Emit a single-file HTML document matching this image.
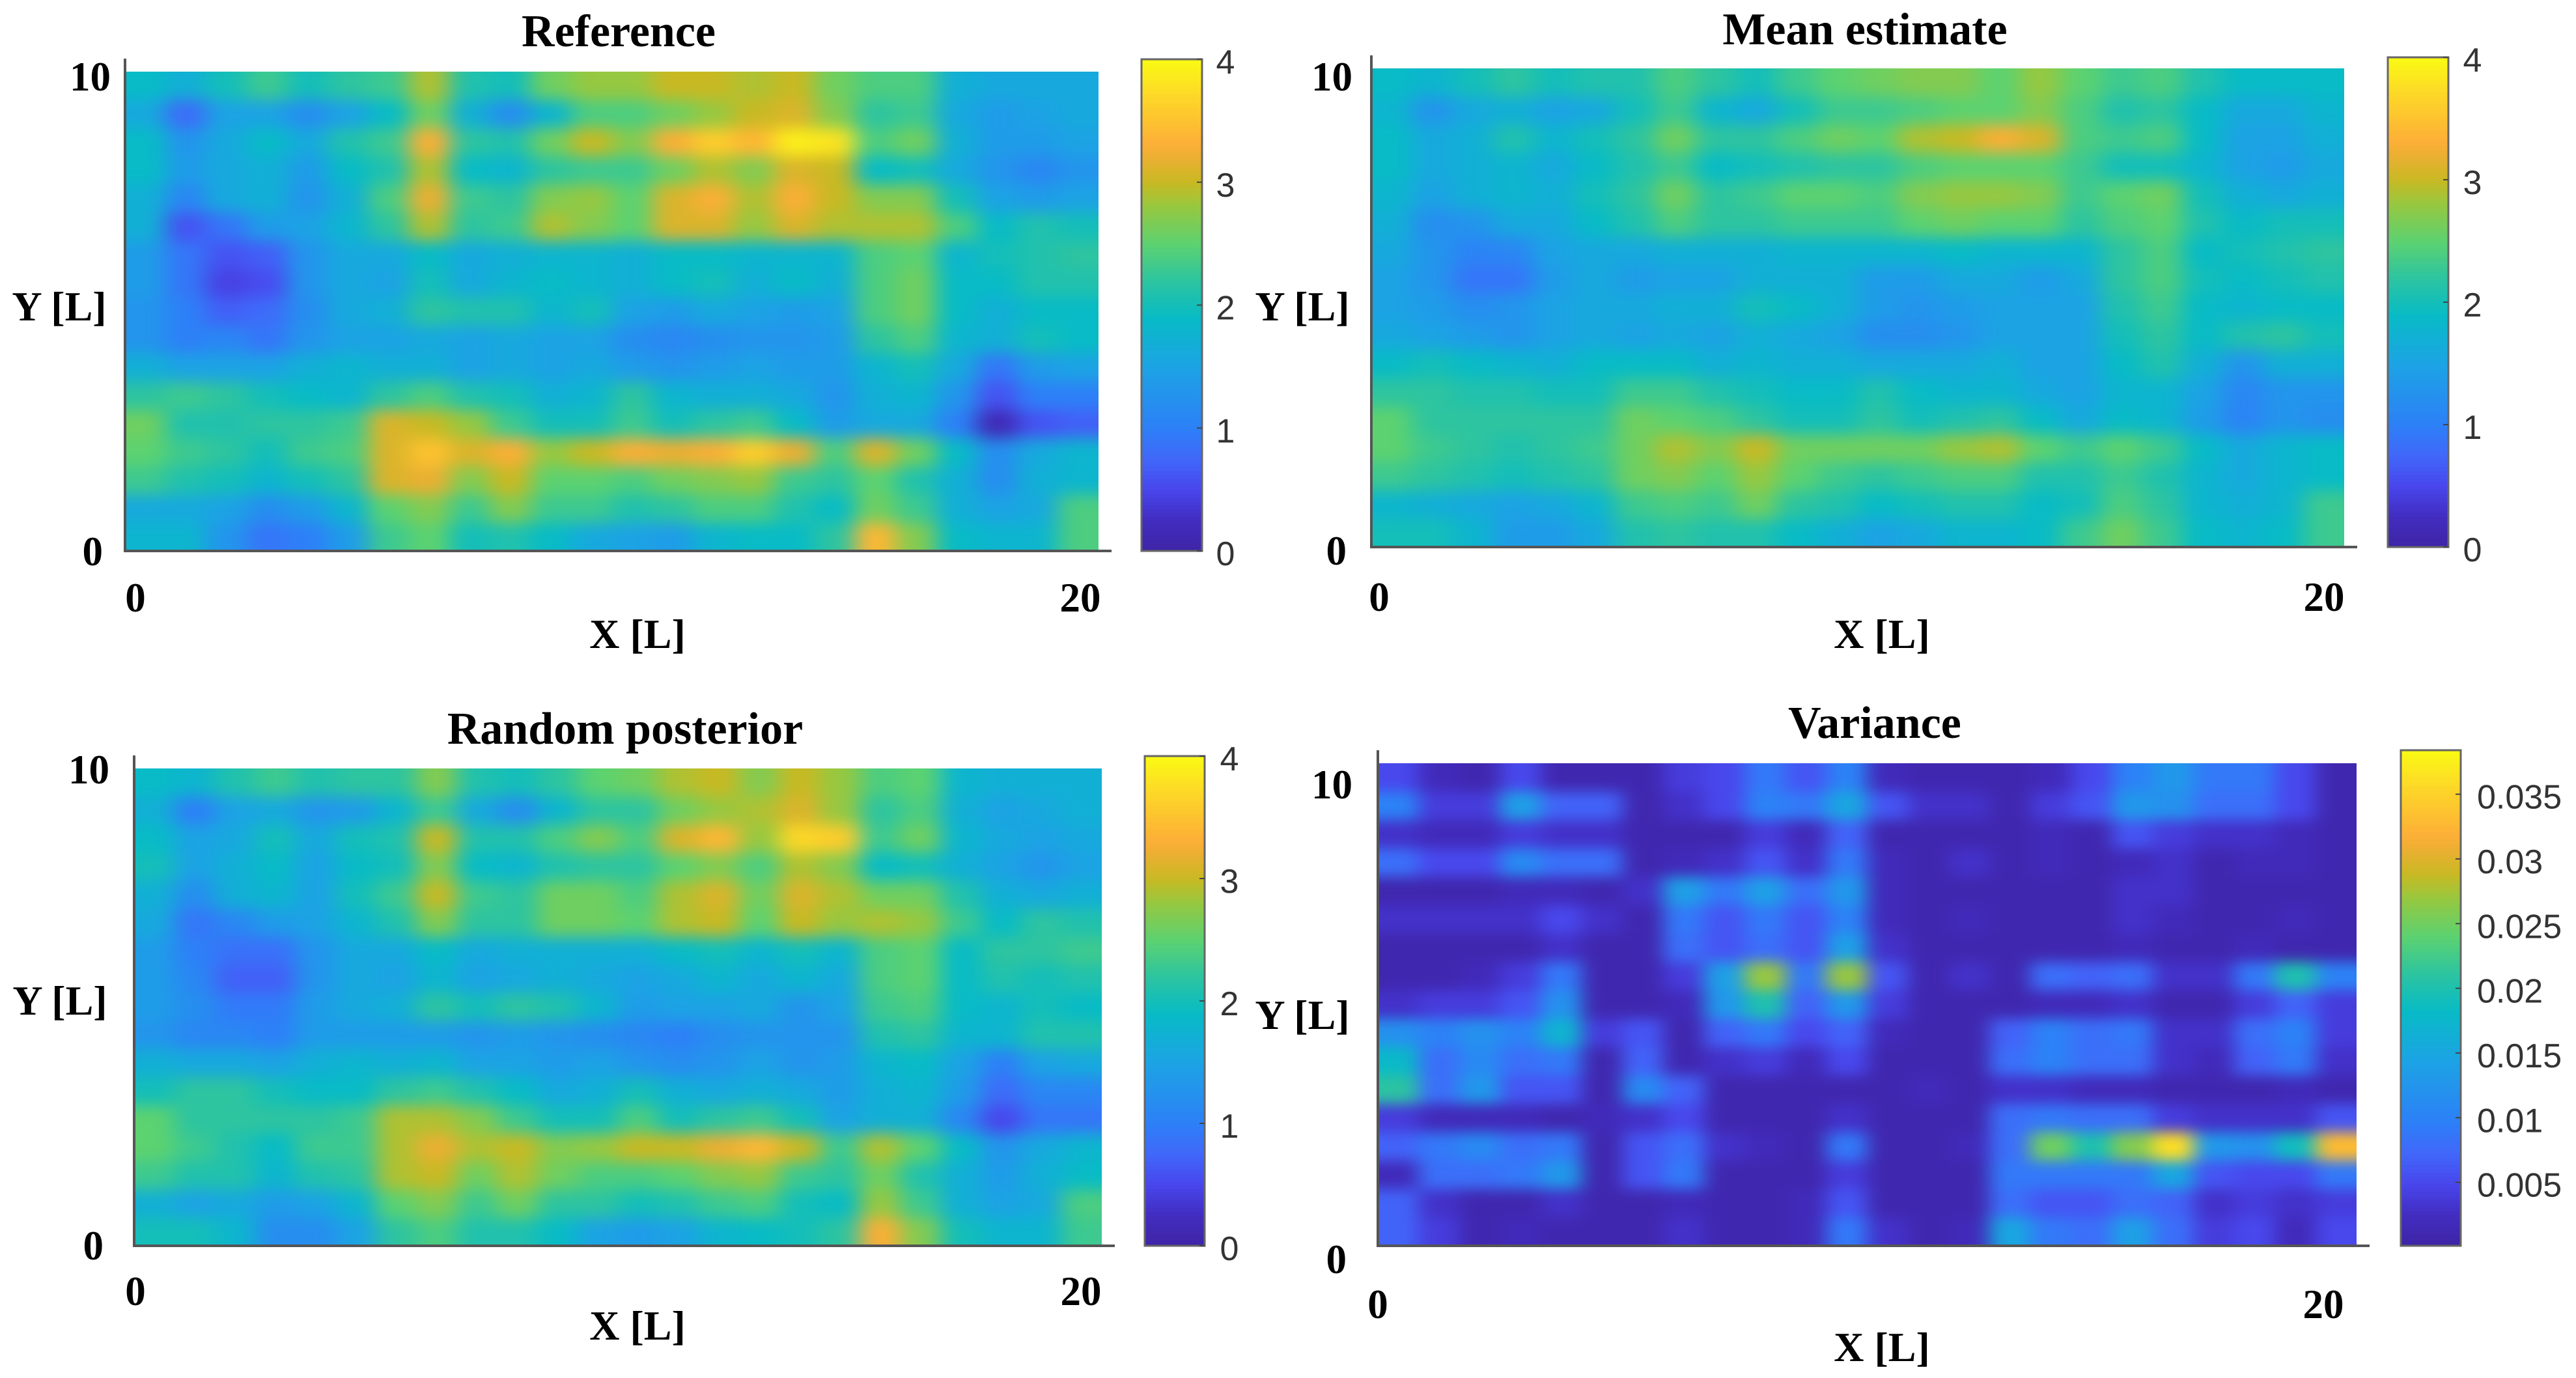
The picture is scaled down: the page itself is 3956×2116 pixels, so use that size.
<!DOCTYPE html>
<html>
<head>
<meta charset="utf-8">
<title>Posterior fields</title>
<style>
html,body{margin:0;padding:0;background:#fff;width:3956px;height:2116px;overflow:hidden}
svg{display:block}
.t{font-family:"Liberation Serif",serif;font-weight:bold;fill:#000;text-anchor:middle}
.title{font-size:70px}
.lab{font-size:64px}
.tick{font-size:63px}
.cb{font-family:"Liberation Sans",sans-serif;font-size:52px;fill:#333}
</style>
</head>
<body>
<svg id="fig" xmlns="http://www.w3.org/2000/svg" width="3956" height="2116" viewBox="0 0 3956 2116">
<rect width="3956" height="2116" fill="#fff"/>
<defs>
<filter id="soft" filterUnits="userSpaceOnUse" x="-200" y="-200" width="4400" height="2600" color-interpolation-filters="sRGB"><feGaussianBlur stdDeviation="17 12"/></filter>
<filter id="softVar" filterUnits="userSpaceOnUse" x="-200" y="-200" width="4400" height="2600" color-interpolation-filters="sRGB"><feGaussianBlur stdDeviation="15 10"/></filter>
</defs>
</svg>
<script>
const referenceField = [
[1.9,1.7,2.0,2.3,2.0,2.2,2.3,2.9,2.1,2.0,2.6,2.8,2.8,3.0,3.0,2.9,3.0,2.6,2.4,2.4,1.7,1.6,1.6,1.6],
[1.6,0.8,1.5,1.5,1.2,1.5,1.9,2.6,1.7,1.2,1.8,2.4,2.4,2.6,2.8,3.0,3.1,2.7,2.2,2.3,1.6,1.4,1.5,1.6],
[1.9,1.3,1.6,1.9,1.6,2.1,2.3,3.3,2.2,2.1,2.6,3.0,2.7,3.3,3.6,3.4,3.9,3.8,2.4,2.6,1.7,1.4,1.4,1.5],
[1.9,1.4,1.6,1.7,1.4,1.9,2.1,2.9,1.9,1.8,2.2,2.3,2.3,2.6,2.9,2.7,3.1,3.0,1.9,2.0,1.6,1.3,1.1,1.3],
[1.7,1.1,1.6,1.7,1.3,1.7,2.4,3.2,2.3,2.2,2.7,2.8,2.5,3.1,3.3,2.9,3.3,3.0,2.7,2.7,2.0,1.5,1.4,1.5],
[1.7,0.6,0.9,1.4,1.5,1.8,2.2,2.9,2.2,2.3,2.9,2.7,2.5,3.1,3.1,2.8,3.1,2.9,2.9,2.9,2.4,1.9,2.1,2.0],
[1.4,0.9,0.6,0.7,1.3,1.6,1.6,1.9,1.6,1.7,1.8,1.8,1.7,1.9,1.9,1.8,1.8,1.8,2.4,2.5,1.8,2.0,2.1,2.2],
[1.4,0.9,0.45,0.55,1.3,1.6,1.5,2.0,1.6,1.8,1.9,1.8,1.7,1.9,2.0,1.7,1.9,1.7,2.4,2.6,1.9,1.9,2.1,2.1],
[1.3,1.0,0.7,0.8,1.2,1.6,1.7,2.2,2.1,2.1,1.8,2.0,1.5,1.4,1.6,1.5,1.4,1.5,2.4,2.6,1.9,1.7,1.9,1.9],
[1.3,1.0,1.1,0.9,1.3,1.5,1.5,1.6,1.5,1.6,1.5,1.5,1.2,1.1,1.2,1.3,1.3,1.4,2.2,2.4,1.8,1.7,2.0,1.9],
[1.7,1.5,1.5,1.5,1.7,1.8,1.7,1.7,1.5,1.6,1.5,1.6,1.4,1.3,1.4,1.5,1.4,1.4,1.8,2.0,1.6,0.9,1.4,1.5],
[2.2,2.3,2.2,2.0,1.9,1.8,2.2,2.4,2.1,2.0,1.7,1.8,2.2,1.8,1.7,1.7,1.6,1.3,1.7,1.8,1.3,0.6,1.0,1.0],
[2.6,2.1,2.1,2.2,2.2,2.3,3.1,3.0,2.8,2.3,2.0,2.0,2.3,2.0,2.2,2.3,1.9,1.4,1.6,1.6,1.0,0.15,0.6,0.7],
[2.5,2.3,2.2,2.0,2.3,2.4,3.1,3.5,3.1,3.3,2.8,3.0,3.3,3.2,3.3,3.6,3.2,2.4,3.1,2.6,1.9,1.2,1.6,1.8],
[2.3,2.1,2.0,1.8,2.0,2.2,3.1,3.2,2.7,3.0,2.5,2.5,2.4,2.6,2.7,2.8,2.3,2.2,2.5,2.1,1.7,1.2,1.7,1.8],
[1.6,1.6,1.5,1.2,1.4,1.8,2.5,2.7,2.3,2.7,2.3,2.3,2.1,2.2,2.4,2.4,2.1,1.9,2.6,2.3,1.7,1.5,1.6,2.4],
[1.8,1.8,1.3,0.9,1.0,1.4,2.3,2.5,2.0,2.1,1.9,1.6,1.5,1.4,1.8,1.9,1.9,2.2,3.4,2.7,1.9,1.8,1.8,2.4]
];
const meanField = [
[1.9,1.8,2.0,2.2,2.0,2.1,2.1,2.4,2.2,2.0,2.3,2.5,2.6,2.7,2.7,2.5,2.8,2.5,2.3,2.4,2.1,1.9,1.9,1.9],
[1.8,1.3,1.6,1.7,1.5,1.6,2.0,2.3,1.8,1.6,2.0,2.3,2.3,2.4,2.5,2.5,2.7,2.4,2.1,2.2,1.9,1.6,1.6,1.8],
[1.9,1.6,1.7,2.1,1.8,2.0,2.2,2.6,2.2,2.2,2.4,2.6,2.5,2.9,3.0,3.3,3.1,2.4,2.3,2.4,1.9,1.5,1.5,1.7],
[1.9,1.6,1.7,1.8,1.6,1.9,2.1,2.3,1.9,2.0,2.1,2.2,2.2,2.4,2.5,2.5,2.5,2.3,2.0,2.0,1.8,1.5,1.4,1.6],
[1.8,1.5,1.7,1.8,1.7,2.0,2.2,2.6,2.2,2.3,2.5,2.5,2.4,2.7,2.8,2.8,2.7,2.3,2.5,2.6,2.0,1.7,1.6,1.7],
[1.7,1.2,1.3,1.6,1.6,1.9,2.1,2.4,2.2,2.2,2.3,2.3,2.3,2.5,2.6,2.5,2.5,2.2,2.4,2.5,2.1,1.9,2.0,2.0],
[1.6,1.3,1.05,1.1,1.5,1.6,1.6,1.7,1.7,1.7,1.8,1.8,1.8,1.8,1.9,1.8,1.8,1.8,2.2,2.4,1.9,2.0,2.1,2.2],
[1.5,1.3,0.9,0.9,1.4,1.6,1.4,1.5,1.5,1.7,1.7,1.7,1.4,1.4,1.6,1.6,1.4,1.6,2.2,2.4,2.0,1.9,2.0,2.1],
[1.5,1.4,1.2,1.3,1.5,1.6,1.6,1.7,1.7,2.0,1.9,1.7,1.4,1.3,1.4,1.5,1.5,1.5,2.1,2.3,1.9,1.8,1.9,1.9],
[1.6,1.5,1.4,1.3,1.5,1.6,1.5,1.6,1.5,1.7,1.6,1.5,1.2,1.2,1.3,1.5,1.5,1.5,2.0,2.2,1.9,2.1,2.2,2.0],
[1.9,2.0,1.9,1.8,1.7,1.9,1.9,1.9,1.7,1.8,1.7,1.7,1.6,1.6,1.6,1.7,1.5,1.5,1.9,2.1,1.7,1.3,1.7,1.7],
[2.2,2.2,2.1,2.1,2.0,2.0,2.3,2.3,2.1,2.0,1.9,1.9,2.1,1.9,1.8,1.8,1.6,1.5,1.8,1.8,1.5,1.1,1.3,1.3],
[2.5,2.2,2.2,2.2,2.2,2.2,2.6,2.5,2.4,2.2,2.0,2.0,2.2,2.0,2.1,2.2,1.9,1.6,1.9,1.8,1.4,1.05,1.3,1.2],
[2.5,2.3,2.2,2.1,2.2,2.3,2.6,2.9,2.7,3.0,2.6,2.6,2.6,2.6,2.8,2.9,2.5,2.3,2.5,2.3,1.9,1.6,1.8,1.9],
[2.3,2.2,2.1,2.0,2.1,2.2,2.6,2.7,2.5,2.8,2.5,2.3,2.2,2.3,2.4,2.4,2.1,2.1,2.3,2.1,1.8,1.6,1.8,1.9],
[1.8,1.7,1.6,1.5,1.6,1.8,2.3,2.4,2.3,2.6,2.2,2.1,1.9,2.0,2.1,2.1,1.9,2.0,2.4,2.2,1.8,1.7,1.8,2.3],
[2.0,2.0,1.8,1.4,1.4,1.6,2.1,2.2,2.1,2.1,1.9,1.7,1.5,1.6,1.8,1.8,1.9,2.3,2.6,2.3,1.9,1.8,1.9,2.3]
];
const posteriorField = [
[1.9,1.8,2.1,2.3,2.1,2.2,2.2,2.7,2.1,2.0,2.2,2.5,2.6,2.9,3.0,2.7,3.0,2.8,2.4,2.5,1.8,1.7,1.7,1.7],
[1.7,1.0,1.5,1.6,1.3,1.4,1.8,2.3,1.6,1.2,1.8,2.2,2.2,2.6,2.8,2.9,3.1,2.8,2.2,2.4,1.7,1.5,1.6,1.7],
[1.9,1.5,1.6,2.0,1.6,2.0,2.1,3.0,2.1,2.1,2.4,2.7,2.4,3.1,3.4,2.8,3.7,3.6,2.3,2.6,1.8,1.6,1.5,1.6],
[2.0,1.5,1.7,1.9,1.5,1.9,2.0,2.7,1.9,1.8,2.1,2.2,2.2,2.5,2.7,2.4,2.9,2.7,1.9,2.0,1.7,1.5,1.3,1.5],
[1.7,1.2,1.7,1.8,1.5,2.0,2.3,3.0,2.3,2.2,2.6,2.6,2.4,2.9,3.1,2.6,3.1,2.9,2.6,2.6,2.1,1.7,1.6,1.7],
[1.6,0.9,1.1,1.4,1.5,1.8,2.1,2.7,2.2,2.2,2.6,2.6,2.5,2.9,3.0,2.5,3.0,2.8,2.9,2.8,2.3,1.9,2.2,2.1],
[1.4,1.0,0.85,0.85,1.3,1.6,1.6,1.9,1.6,1.7,1.7,1.7,1.7,1.9,2.0,1.8,2.0,1.8,2.4,2.5,1.9,2.2,2.2,2.3],
[1.4,1.1,0.7,0.7,1.3,1.6,1.5,1.8,1.5,1.6,1.7,1.6,1.5,1.6,1.8,1.6,1.8,1.6,2.4,2.5,1.9,2.1,2.0,2.1],
[1.4,1.2,0.95,0.95,1.4,1.6,1.7,2.2,2.0,2.2,2.1,1.8,1.4,1.5,1.5,1.6,1.3,1.5,2.3,2.4,1.9,1.8,2.0,1.9],
[1.3,1.1,1.1,1.0,1.4,1.4,1.4,1.4,1.3,1.4,1.3,1.2,1.1,1.0,1.2,1.3,1.3,1.3,2.1,2.2,1.8,1.8,2.1,2.1],
[1.7,1.6,1.6,1.5,1.7,1.8,1.7,1.8,1.5,1.5,1.4,1.5,1.3,1.2,1.3,1.5,1.3,1.4,1.8,1.9,1.5,1.0,1.5,1.6],
[2.0,2.2,2.2,2.0,1.9,1.9,2.2,2.3,2.1,1.9,1.6,1.7,2.0,1.7,1.6,1.7,1.6,1.4,1.7,1.8,1.4,0.8,1.1,1.1],
[2.5,2.2,2.2,2.2,2.2,2.3,2.9,2.9,2.7,2.3,2.0,2.0,2.4,2.0,2.2,2.3,2.0,1.5,1.7,1.7,1.1,0.5,0.9,0.9],
[2.5,2.3,2.1,1.9,2.3,2.3,2.9,3.2,2.9,3.0,2.7,2.8,3.0,3.0,3.2,3.4,3.0,2.3,2.9,2.5,1.9,1.3,1.6,1.8],
[2.3,2.1,2.1,1.8,2.1,2.2,2.9,3.0,2.6,2.9,2.6,2.4,2.4,2.5,2.7,2.8,2.3,2.2,2.6,2.1,1.7,1.4,1.7,1.9],
[1.7,1.5,1.6,1.4,1.5,1.8,2.5,2.7,2.3,2.6,2.2,2.2,2.0,2.1,2.3,2.4,2.0,1.9,2.8,2.3,1.7,1.5,1.6,2.4],
[2.0,2.0,1.8,1.2,1.2,1.5,2.2,2.4,2.1,2.1,1.9,1.5,1.4,1.5,1.8,1.9,2.0,2.2,3.3,2.7,2.0,1.8,1.8,2.3]
];
/* variance values, in thousandths */
const varianceField = [
[5,2,1,5,1,1,1,4,5,9,6,10,2,1,1,1,2,5,10,13,9,9,5,1],
[10,4,4,14,7,7,1,3,5,10,9,15,6,3,3,1,4,6,13,12,8,8,5,1],
[3,2,2,4,3,3,1,1,1,4,2,7,1,1,1,1,2,1,6,4,3,3,2,1],
[8,5,5,11,8,8,1,2,3,6,3,9,2,1,3,1,2,1,2,3,1,2,2,1],
[1,1,1,2,2,1,3,14,9,14,8,13,2,1,1,1,1,1,3,3,1,1,1,1],
[3,3,3,3,5,3,1,9,6,9,6,10,2,1,2,1,1,1,3,2,1,1,2,1],
[1,1,1,1,3,1,1,8,6,8,6,14,3,1,1,1,1,1,2,1,1,2,1,1],
[1,1,2,4,9,1,1,4,14,27,9,27,6,1,3,1,8,7,8,3,3,9,20,10],
[3,4,4,6,12,1,1,2,13,20,7,13,4,1,1,1,2,2,3,1,1,4,7,4],
[12,10,12,10,17,4,6,1,7,9,5,7,2,1,1,7,10,8,9,3,3,8,10,4],
[18,8,11,8,9,1,7,1,3,4,2,5,1,1,1,8,10,8,8,3,2,7,9,3],
[21,8,13,6,6,1,11,7,1,1,1,1,1,2,1,3,3,2,2,1,1,1,2,1],
[4,2,2,2,1,2,3,5,1,1,1,3,1,1,1,8,9,8,8,4,3,3,3,6],
[7,9,11,8,9,1,6,8,3,2,1,9,1,1,2,8,25,20,26,36,13,12,19,33],
[2,8,8,9,13,1,6,9,1,1,1,4,1,1,1,9,9,9,9,15,6,5,5,9],
[7,3,1,1,3,1,1,2,1,1,2,6,1,1,1,8,6,6,8,7,3,4,3,4],
[7,4,1,2,1,1,1,3,1,1,2,9,3,1,2,15,9,8,14,8,4,5,2,5]
];
const colorbarTicks = [0,1,2,3,4];
const varianceTicks = ["0.005","0.01","0.015","0.02","0.025","0.03","0.035"];

const colormapStops = [[0,62,36,165],[.0625,66,44,192],[.125,72,70,236],[.1875,65,103,250],[.25,45,128,247],[.375,28,163,228],[.475,8,187,198],[.55,45,196,160],[.625,92,210,112],[.7,150,200,65],[.75,200,185,35],[.8,235,175,50],[.83,253,175,55],[.925,253,215,40],[1,250,250,20]];
function parula(t){
  t=Math.max(0,Math.min(1,t));
  for(let i=1;i<colormapStops.length;i++){
    const a=colormapStops[i-1],b=colormapStops[i];
    if(t<=b[0]){
      const f=(t-a[0])/(b[0]-a[0]);
      return 'rgb('+[1,2,3].map(k=>Math.round(a[k]+(b[k]-a[k])*f)).join(',')+')';
    }
  }
  return 'rgb(250,250,20)';
}

const NS='http://www.w3.org/2000/svg';
const fig=document.getElementById('fig');
function mk(tag,parent,attrs){
  const e=document.createElementNS(NS,tag);
  for(const k in attrs)e.setAttribute(k,attrs[k]);
  parent.appendChild(e);
  return e;
}
function label(cls,x,y,str,name,anchor){
  const e=mk('text',fig,{class:cls,x:x,y:y});
  if(anchor)e.style.textAnchor=anchor;
  e.textContent=str;
  
  
  return e;
}

function drawPanel(p){
  const rows=p.field.length, cols=p.field[0].length;
  const xCell=c=>p.left+(p.right-p.left)*c/cols;
  const yCell=r=>p.top+(p.bottom-p.top)*r/rows;
  const colorOf=v=>parula((v-p.vmin)/(p.vmax-p.vmin));
  const clip=mk('clipPath',fig,{id:'clip-'+p.id});
  mk('rect',clip,{x:p.left,y:p.top,width:p.right-p.left,height:p.bottom-p.top});
  const outer=mk('g',fig,{'clip-path':'url(#clip-'+p.id+')'});
  
  
  const g=mk('g',outer,{filter:'url(#'+p.filter+')'});
  p.field.forEach((row,r)=>{
    row.forEach((raw,c)=>{
      const v=raw*p.unit;
      const x0=c===0?xCell(0)-160:xCell(c);
      const x1=c===cols-1?xCell(cols)+160:xCell(c+1)+1;
      const y0=r===0?yCell(0)-160:yCell(r);
      const y1=r===rows-1?yCell(rows)+160:yCell(r+1)+1;
      const cell=mk('rect',g,{x:x0,y:y0,width:x1-x0,height:y1-y0,fill:colorOf(v)});
      
      
    });
  });
  /* axes */
  const ya=mk('line',fig,{x1:p.left,x2:p.left,y1:p.top-20,y2:p.bottom+2,stroke:'#555','stroke-width':4});
  
  
  const xa=mk('line',fig,{x1:p.left,x2:p.right+20,y1:p.bottom,y2:p.bottom,stroke:'#555','stroke-width':4});
  
  
  /* colorbar */
  const n=128, cb=p.cb;
  const cbY=v=>cb.bottom-(cb.bottom-cb.top)*(v-p.vmin)/(p.vmax-p.vmin);
  const cg=mk('g',fig,{});
  
  
  for(let i=0;i<n;i++){
    const a=p.vmin+(p.vmax-p.vmin)*i/n, b=p.vmin+(p.vmax-p.vmin)*(i+1)/n;
    mk('rect',cg,{x:cb.left,y:cbY(b),width:cb.right-cb.left,height:cbY(a)-cbY(b)+1,fill:colorOf((a+b)/2)});
  }
  mk('rect',cg,{x:cb.left,y:cb.top,width:cb.right-cb.left,height:cb.bottom-cb.top,fill:'none',stroke:'#666','stroke-width':3});
  p.ticks.forEach(t=>{
    const v=parseFloat(t), y=cbY(v);
    const tk=mk('line',fig,{x1:cb.right-8,x2:cb.right,y1:y,y2:y,stroke:'#444','stroke-width':2});
    
    
    label('cb',cb.labelX,Math.min(y+22,cb.bottom+24),String(t),'colorbar-tick-label',p.cbAnchor);
  });
  /* text */
  label('t title',p.titleX,p.titleY,p.title,p.id+'-title');
  label('t lab',p.xLab[0],p.xLab[1],'X [L]',p.id+'-x-axis-title');
  label('t lab',p.yLab[0],p.yLab[1],'Y [L]',p.id+'-y-axis-title');
  p.tickLabels.forEach(t=>{
    label('t tick',t[0],t[1],t[2],p.id+'-tick-label',t[3]);
  });
}

drawPanel({id:'reference',title:'Reference',field:referenceField,unit:1,vmin:0,vmax:4,filter:'soft',ticks:colorbarTicks,
  left:192,right:1687,top:110,bottom:846,cb:{left:1753,right:1846,top:91,bottom:846,labelX:1882},cbAnchor:'middle',
  titleX:950,titleY:71,xLab:[979,995],yLab:[91,492],
  tickLabels:[[170,139,'10','end'],[158,868,'0','end'],[208,939,'0','middle'],[1659,939,'20','middle']]});
drawPanel({id:'mean',title:'Mean estimate',field:meanField,unit:1,vmin:0,vmax:4,filter:'soft',ticks:colorbarTicks,
  left:2106,right:3600,top:105,bottom:840,cb:{left:3667,right:3760,top:88,bottom:840,labelX:3797},cbAnchor:'middle',
  titleX:2864,titleY:68,xLab:[2890,995],yLab:[2000,492],
  tickLabels:[[2077,139,'10','end'],[2068,867,'0','end'],[2118,938,'0','middle'],[3569,938,'20','middle']]});
drawPanel({id:'posterior',title:'Random posterior',field:posteriorField,unit:1,vmin:0,vmax:4,filter:'soft',ticks:colorbarTicks,
  left:206,right:1692,top:1180,bottom:1913,cb:{left:1758,right:1850,top:1161,bottom:1913,labelX:1888},cbAnchor:'middle',
  titleX:960,titleY:1142,xLab:[979,2057],yLab:[92,1558],
  tickLabels:[[168,1203,'10','end'],[159,1934,'0','end'],[208,2004,'0','middle'],[1660,2004,'20','middle']]});
drawPanel({id:'variance',title:'Variance',field:varianceField,unit:0.001,vmin:0.0001,vmax:0.0384,filter:'softVar',ticks:varianceTicks,
  left:2116,right:3619,top:1172,bottom:1913,cb:{left:3687,right:3779,top:1152,bottom:1913,labelX:3804},cbAnchor:'start',
  titleX:2879,titleY:1133,xLab:[2890,2090],yLab:[2000,1580],
  tickLabels:[[2077,1226,'10','end'],[2068,1955,'0','end'],[2116,2024,'0','middle'],[3568,2024,'20','middle']]});
</script>
</body>
</html>
